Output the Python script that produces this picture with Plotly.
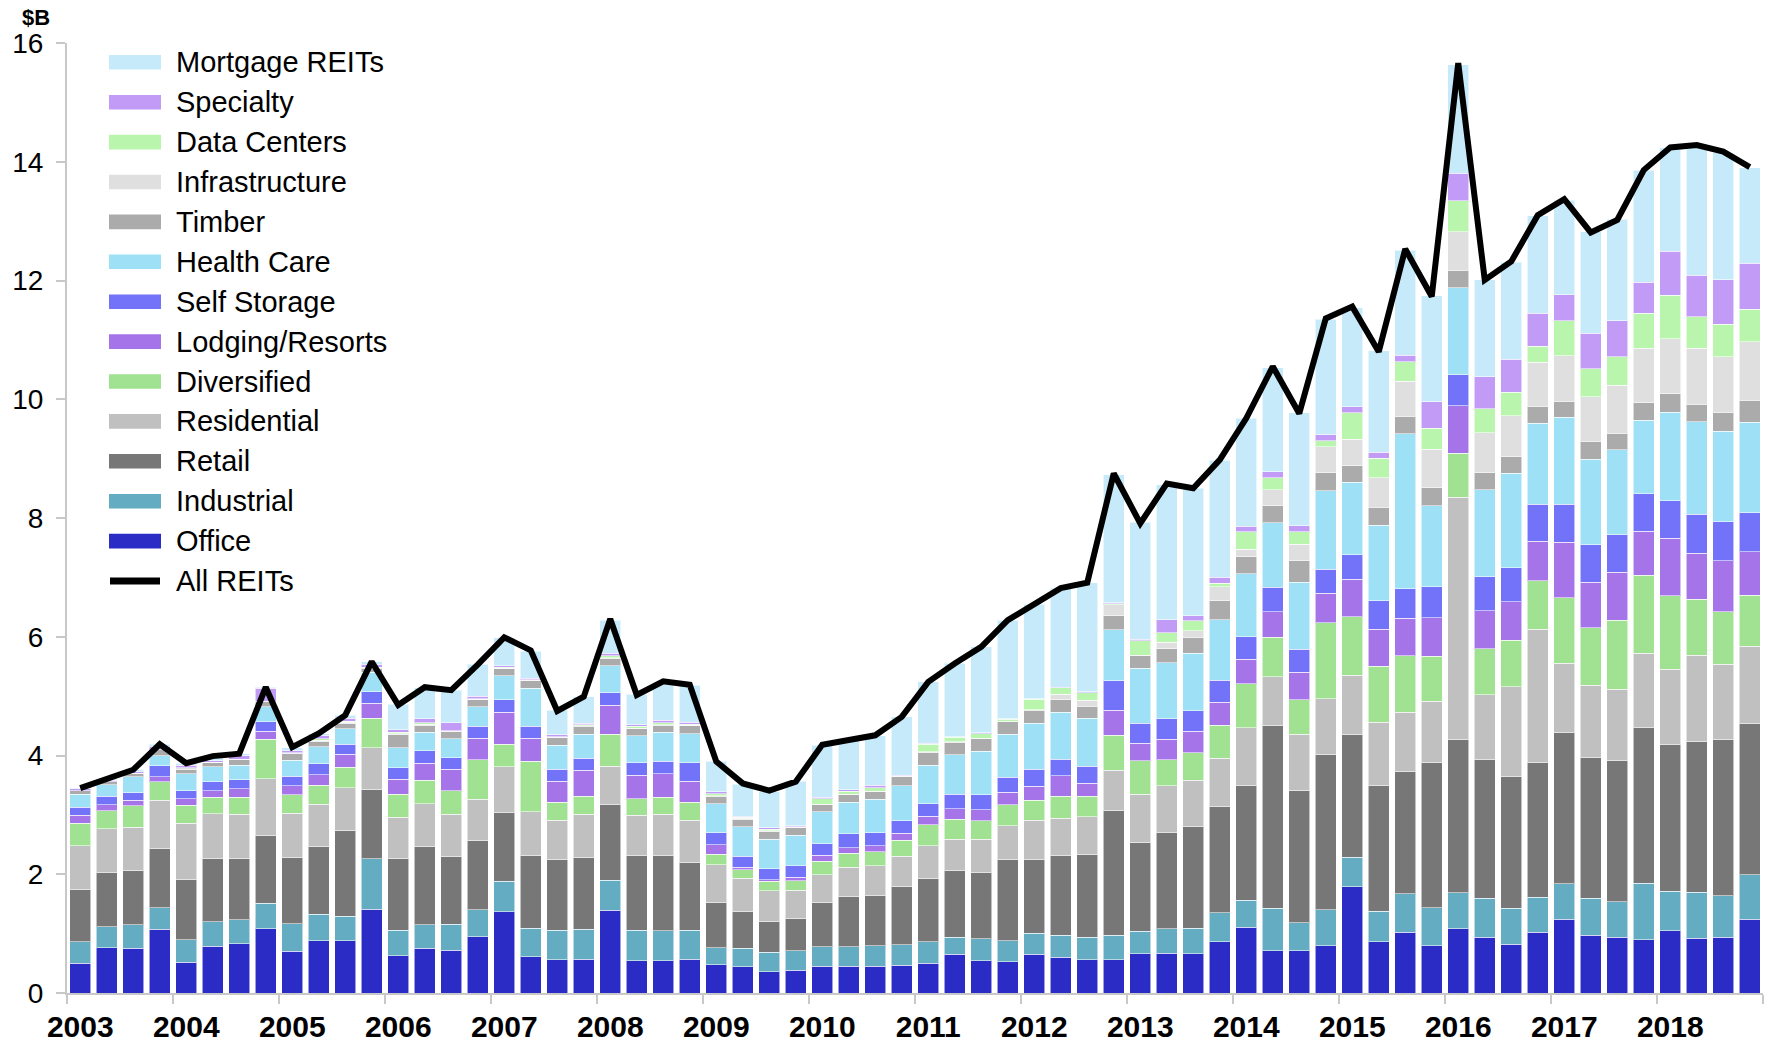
import plotly.graph_objects as go

quarters = [f"{y}Q{q}" for y in range(2003, 2019) for q in range(1, 5)]
years = [str(y) for y in range(2003, 2019)]

office = [.50,.76,.75,1.07, .52,.79,.83,1.08, .70,.88,.88,1.41, .63,.75,.72,.95, 1.37,.61,.56,.57, 1.39,.54,.54,.57, .48,.44,.36,.38, .45,.45,.45,.47, .50,.65,.54,.53, .65,.60,.56,.56, .66,.67,.66,.86, 1.11,.71,.71,.80, 1.79,.86,1.02,.80, 1.08,.94,.82,1.02, 1.24,.97,.94,.90, 1.05,.92,.94,1.24]
industrial = [.36,.36,.40,.37, .38,.41,.40,.43, .47,.45,.41,.85, .43,.40,.44,.45, .51,.48,.50,.50, .51,.52,.51,.49, .28,.31,.33,.33, .33,.33,.35,.34, .36,.29,.37,.35, .36,.37,.38,.41, .38,.41,.43,.49, .45,.72,.47,.60, .50,.52,.65,.64, .61,.66,.61,.59, .60,.63,.60,.95, .66,.78,.70,.75]
retail = [.88,.91,.91,.99, 1.01,1.07,1.04,1.15, 1.11,1.13,1.44,1.17, 1.20,1.31,1.14,1.17, 1.16,1.22,1.19,1.21, 1.28,1.26,1.26,1.14, .76,.62,.51,.54, .74,.85,.85,.98, 1.07,1.13,1.12,1.37, 1.24,1.34,1.39,2.10, 1.49,1.63,1.71,1.79, 1.94,3.07,2.23,2.61, 2.06,2.11,2.06,2.44, 2.58,2.33,2.21,2.28, 2.55,2.36,2.37,2.62, 2.47,2.53,2.63,2.55]
residential = [.74,.74,.73,.82, .95,.75,.74,.95, .75,.72,.73,.70, .70,.73,.71,.69, .77,.74,.66,.73, .64,.67,.70,.71, .64,.56,.52,.48, .47,.49,.49,.51, .55,.52,.56,.57, .66,.63,.64,.68, .82,.78,.78,.81, .97,.83,.95,.95, 1.00,1.07,1.00,1.03, 4.08,1.09,1.52,2.24, 1.16,1.22,1.21,1.25, 1.27,1.46,1.27,1.30]
diversified = [.38,.30,.36,.31, .30,.28,.29,.66, .31,.32,.34,.50, .39,.39,.40,.67, .38,.85,.30,.30, .54,.28,.29,.30, .18,.15,.16,.16, .23,.23,.24,.27, .35,.34,.31,.35, .34,.37,.34,.59, .56,.44,.47,.56, .74,.66,.58,1.28, .99,.94,.95,.76, .74,.78,.78,.81, 1.11,.97,1.16,1.32, 1.24,.94,.88,.86]
lodging = [.13,.10,.10,.08, .11,.11,.14,.14, .15,.18,.22,.25, .25,.29,.36,.36, .54,.39,.36,.44, .49,.40,.39,.36, .16,.04,.03,.06, .10,.10,.10,.12, .15,.17,.19,.21, .23,.35,.22,.42, .30,.34,.36,.39, .41,.43,.46,.49, .63,.63,.63,.65, .80,.64,.65,.67, .93,.77,.81,.74, .97,.78,.86,.73]
self_storage = [.14,.14,.12,.19, .14,.15,.15,.16, .16,.18,.17,.19, .19,.21,.19,.20, .21,.20,.20,.20, .21,.21,.21,.31, .20,.18,.18,.19, .19,.23,.22,.21, .21,.25,.25,.25, .29,.28,.29,.50, .33,.35,.34,.37, .38,.41,.39,.41, .41,.48,.50,.52, .52,.57,.57,.62, .64,.63,.63,.63, .63,.65,.66,.66]
health_care = [.22,.20,.27,.17, .28,.25,.25,.25, .27,.29,.26,.33, .34,.31,.32,.33, .40,.64,.40,.41, .45,.45,.49,.49, .49,.50,.50,.52, .54,.53,.56,.59, .65,.66,.73,.73, .77,.79,.81,.86, .93,.94,.97,1.02, 1.06,1.09,1.13,1.32, 1.22,1.27,2.61,1.37, 1.47,1.47,1.59,1.37, 1.47,1.44,1.43,1.24, 1.49,1.56,1.52,1.52]
timber = [.06,.05,.06,.10, .07,.08,.10,.09, .11,.09,.09,.07, .22,.12,.13,.12, .12,.13,.13,.13, .12,.12,.12,.13, .12,.13,.13,.12, .12,.13,.13,.15, .21,.21,.21,.21, .22,.21,.20,.23, .22,.24,.27,.32, .29,.29,.36,.30, .28,.30,.29,.30, .29,.28,.28,.28, .27,.30,.28,.29, .31,.30,.32,.37]
infrastructure = [0,0,0,0, .03,0,0,0, .02,.02,.02,.01, .02,.02,0,.01, .01,.01,.01,.01, .02,.01,.01,.01, .01,.01,.01,.01, .01,.01,.01,.01, .01,.01,.01,.01, .01,.09,.10,.19, 0,.11,.11,.23, .12,.27,.28,.44, .45,.50,.59,.65, .65,.68,.69,.74, .76,.75,.81,.92, .93,.94,.94,.99]
data_centers = [0,0,0,0, 0,0,0,0, 0,.02,.02,.01, .02,.02,.01,.01, .02,.01,.01,.02, .03,.03,.03,.02, .04,.02,.03,.01, .09,.05,.06,.01, .13,.08,.08,.03, .18,.11,.13,.02, .24,.16,.17,.06, .30,.20,.21,.10, .44,.33,.33,.35, .52,.40,.40,.27, .59,.47,.48,.59, .73,.53,.54,.55]
specialty = [.03,.02,.03,.06, .05,.02,.06,.22, .03,.05,.05,.05, .04,.07,.13,.04, .02,.02,.03,.02, .04,.03,.04,.03, .03,.02,.02,.02, .03,.02,.04,.01, .02,.01,.01,.01, .01,.01,.01,.01, .03,.22,.08,.10, .09,.10,.10,.10, .10,.10,.11,.45, .47,.54,.55,.56, .44,.60,.60,.52, .74,.70,.75,.77]
mortgage = [.01,.02,.03,.03, .03,.05,.03,.02, .05,.04,.05,.04, .43,.52,.55,.54, .47,.46,.41,.45, .56,.51,.64,.62, .51,.54,.61,.75, .87,.83,.83,.98, 1.03,1.23,1.45,1.66, 1.59,1.67,1.84,2.16, 1.97,2.27,2.15,1.97, 1.82,1.75,1.90,1.95, 1.67,1.71,1.77,1.78, 1.82,1.63,1.64,1.64, 1.59,1.71,1.71,1.89, 1.75,2.19,2.14,1.61]
all_reits = [3.45,3.60,3.76,4.19, 3.87,3.99,4.03,5.15, 4.14,4.37,4.68,5.58, 4.85,5.15,5.10,5.53, 5.99,5.77,4.75,4.99, 6.30,5.02,5.25,5.19, 3.90,3.53,3.41,3.56, 4.18,4.26,4.34,4.65, 5.24,5.55,5.83,6.28, 6.54,6.82,6.91,8.75, 7.91,8.58,8.50,8.98, 9.68,10.55,9.76,11.36, 11.56,10.80,12.53,11.73, 15.66,12.01,12.32,13.10, 13.37,12.81,13.02,13.86, 14.24,14.28,14.17,13.91]

series_names = ["Office", "Industrial", "Retail", "Residential", "Diversified", "Lodging/Resorts",
                "Self Storage", "Health Care", "Timber", "Infrastructure", "Data Centers",
                "Specialty", "Mortgage REITs"]
series_values = [office, industrial, retail, residential, diversified, lodging, self_storage,
                 health_care, timber, infrastructure, data_centers, specialty, mortgage]
series_colors = ["#2B2BC6", "#63ACC2", "#777777", "#C0C0C0", "#A0E291", "#A574E8",
                 "#7373FA", "#9EE1F7", "#ABABAB", "#DFDFDF", "#B9F5AC", "#C29BF7", "#C6EAF9"]

FONT = "Liberation Sans, Arial, sans-serif"
x = list(range(len(quarters)))

fig = go.Figure()
for name, vals, col in zip(series_names, series_values, series_colors):
    fig.add_trace(go.Bar(x=x, y=vals, name=name,
                         marker=dict(color=col, line=dict(color="rgba(255,255,255,0.55)", width=1)),
                         customdata=quarters, hovertemplate="%{customdata}<br>" + name + ": %{y:.2f}<extra></extra>",
                         showlegend=False))
fig.add_trace(go.Scatter(x=x, y=all_reits, name="All REITs", mode="lines",
                         line=dict(color="black", width=6), customdata=quarters,
                         hovertemplate="%{customdata}<br>All REITs: %{y:.2f}<extra></extra>", showlegend=False))

# plot area in pixels
L, R, T, B = 67, 1763, 43, 993
W, H = 1768, 1045

def px(xp):
    return (xp - L) / (R - L)

def py(yp):
    return (B - yp) / (B - T)

shapes = []
annotations = []
legend_items = list(zip(series_names[::-1], series_colors[::-1]))
for k, (name, col) in enumerate(legend_items + [("All REITs", "black")]):
    c = 62.3 + 39.9 * k
    if name == "All REITs":
        shapes.append(dict(type="line", xref="paper", yref="paper", x0=px(110), x1=px(160), y0=py(c), y1=py(c),
                           line=dict(color="black", width=7)))
    else:
        shapes.append(dict(type="rect", xref="paper", yref="paper", x0=px(109), x1=px(161),
                           y0=py(c + 7.3), y1=py(c - 7.3), fillcolor=col, line=dict(width=0)))
    annotations.append(dict(text=name, xref="paper", yref="paper", x=px(174), y=py(c), xanchor="left",
                            yanchor="middle", showarrow=False, font=dict(family=FONT, size=29, color="black")))

annotations.append(dict(text="<b>$B</b>", xref="paper", yref="paper", x=px(36), y=py(17), xanchor="center",
                        yanchor="middle", showarrow=False, font=dict(family=FONT, size=22, color="black")))

axis_col = "#C8C8C8"
fig.update_layout(
    width=W, height=H,
    margin=dict(l=L, r=W - R, t=T, b=H - B, pad=0, autoexpand=False),
    barmode="stack", bargap=0.2,
    paper_bgcolor="white", plot_bgcolor="white",
    font=dict(family=FONT, color="black"),
    shapes=shapes, annotations=annotations,
    xaxis=dict(range=[-0.5, 63.5], tickmode="array", tickvals=[4 * i for i in range(16)],
               ticktext=[f"<b>{y}</b>" for y in years], ticks="", showgrid=False, zeroline=False,
               showline=True, linecolor=axis_col, linewidth=2, automargin=False,
               tickfont=dict(family=FONT, size=30, color="black"), ticklabelstandoff=6,
               minor=dict(tickvals=[-0.5 + 4 * i for i in range(17)], ticks="outside", ticklen=9,
                          tickcolor=axis_col, tickwidth=2, showgrid=False)),
    yaxis=dict(range=[0, 16], tickmode="array", tickvals=list(range(0, 17, 2)), ticks="outside", ticklen=9,
               tickcolor=axis_col, tickwidth=2, showgrid=False, zeroline=False, showline=True,
               linecolor=axis_col, linewidth=2, automargin=False,
               tickfont=dict(family=FONT, size=28, color="black"), ticklabelstandoff=7),
)

fig.write_html("out.html", config={"displayModeBar": False},
               post_script="document.body.style.margin='0px';document.body.style.padding='0px';")
